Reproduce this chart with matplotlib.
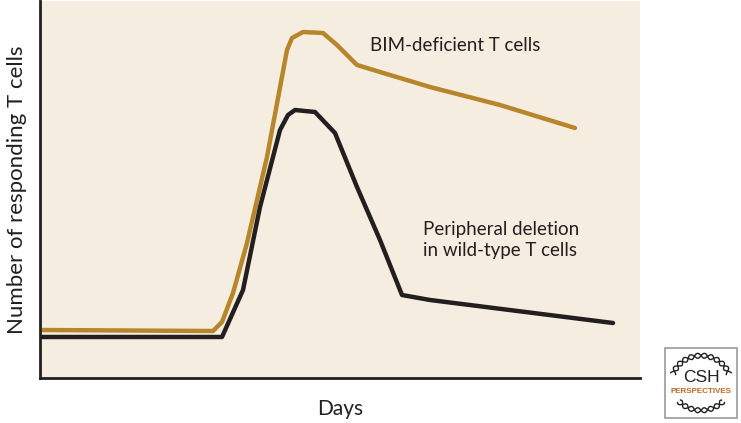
import numpy as np
import matplotlib.pyplot as plt
from matplotlib.patches import Rectangle

# days since antigen exposure (arbitrary units)
bim_days = [0, 8.65, 9.1, 9.65, 10.35, 11.35, 12.35, 12.6, 13.15, 14.15, 14.85, 15.85, 17.0, 19.5, 23.0, 26.75]
bim_cells = [48, 47, 56, 85, 135, 221, 328, 340, 346, 345, 333, 313, 306, 291, 273, 250]

wt_days = [0, 9.1, 10.15, 11.0, 12.0, 12.4, 12.75, 13.75, 14.75, 15.85, 17.0, 18.1, 19.5, 28.65]
wt_cells = [41, 41, 88, 171, 248, 263, 268, 266, 245, 191, 138, 83, 78, 55]

bg = '#f5eee0'
gold = '#b8862a'
ink = '#231f20'

fig = plt.figure(figsize=(7.41, 4.23), dpi=100)
ax = fig.add_axes([40 / 741, 45 / 423, 600 / 741, 377 / 423])
ax.set_facecolor(bg)
ax.set_xlim(0, 30)
ax.set_ylim(0, 377)

ax.plot(bim_days, bim_cells, color=gold, lw=3.2, solid_joinstyle='round', solid_capstyle='round')
ax.plot(wt_days, wt_cells, color=ink, lw=3.2, solid_joinstyle='round', solid_capstyle='round')

hand = ['Lato', 'DejaVu Sans']
ax.text(16.5, 333, 'BIM-deficient T cells', fontsize=13.5, color=ink, family=hand, va='center')
ax.text(19.15, 138, 'Peripheral deletion\nin wild-type T cells', fontsize=13.5, color=ink,
        family=hand, va='center', linespacing=1.35)

for s in ['top', 'right']:
    ax.spines[s].set_visible(False)
for s in ['left', 'bottom']:
    ax.spines[s].set_color(ink)
    ax.spines[s].set_linewidth(2)
ax.set_xticks([])
ax.set_yticks([])
ax.set_xlabel('Days', fontsize=15, family=hand, color=ink, labelpad=15)
ax.set_ylabel('Number of responding T cells', fontsize=16, family=hand, color=ink, labelpad=9)

# CSH Perspectives badge
logo = fig.add_axes([664 / 741, 4 / 423, 74 / 741, 72 / 423])
logo.set_xlim(0, 1)
logo.set_ylim(0, 1)
logo.axis('off')
logo.add_patch(Rectangle((0.01, 0.01), 0.98, 0.98, fill=False, ec='#999999', lw=1.2))
for a0, a1 in [(20, 160), (222, 318)]:
    th = np.radians(np.linspace(a0, a1, 200))
    for sign in [1, -1]:
        r = 1 + sign * 0.09 * np.sin(th * 14)
        logo.plot(0.5 + 0.4 * r * np.cos(th), 0.5 + 0.38 * r * np.sin(th), color=ink, lw=1)
logo.text(0.5, 0.58, 'CSH', ha='center', va='center', fontsize=12.5, color=ink, family='Liberation Sans')
logo.text(0.5, 0.38, 'PERSPECTIVES', ha='center', va='center', fontsize=5.8, color='#c8641e',
          family='Liberation Sans', weight='bold')

fig.savefig('out.png', dpi=100)
